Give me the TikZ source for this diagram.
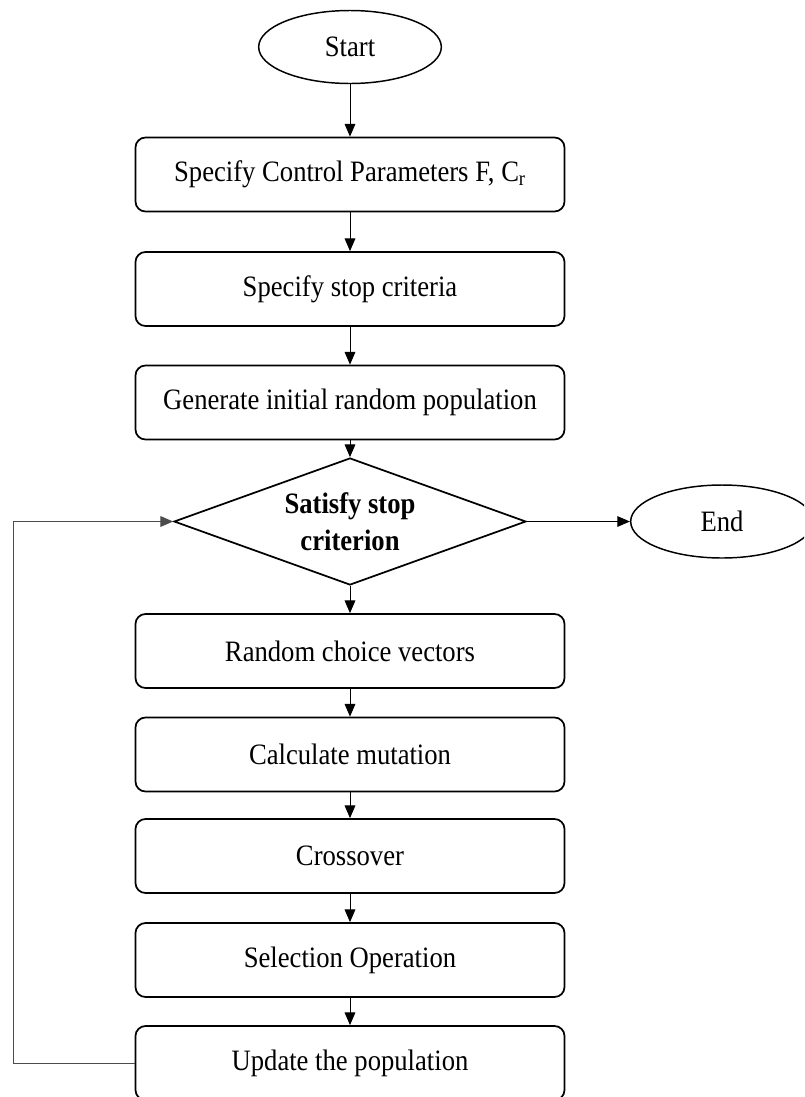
\documentclass[tikz,border=0pt]{standalone}
\usepackage{fontspec}
\setmainfont{Liberation Serif}[FakeStretch=0.9]
\usetikzlibrary{shapes.geometric,arrows.meta}
\begin{document}
\begin{tikzpicture}[x=0.75pt,y=-0.75pt,
  font=\fontsize{22.2}{26}\selectfont,
  stepbox/.style={draw,line width=1.3pt,rounded corners=7.5pt,minimum width=321.75pt,minimum height=55.5pt,inner sep=0pt},
  term/.style={draw,line width=1.1pt,ellipse,minimum width=137pt,minimum height=54.75pt,inner sep=0pt},
  decision/.style={draw,line width=1.3pt,diamond,shape aspect=2.77,minimum width=264pt,minimum height=95.25pt,inner sep=0pt,align=center,font=\fontsize{22.2}{28}\selectfont\bfseries},
  conn/.style={line width=0.75pt,-{Triangle[length=9.5pt,width=8pt]}},
  loopline/.style={line width=0.75pt,draw=black!70,-{Triangle[length=9.5pt,width=8pt]}}]
\useasboundingbox (0,0) rectangle (804,1097);
\clip (0,0) rectangle (804,1097);
\node[term] (start) at (350,47) {Start};
\node[stepbox] (b1) at (350,174.5) {Specify Control Parameters F, C\textsubscript{r}};
\node[stepbox] (b2) at (350,289) {Specify stop criteria};
\node[stepbox] (b3) at (350,402.5) {Generate initial random population};
\node[decision] (dec) at (350,521.5) {Satisfy stop\\criterion};
\node[term] (end) at (722,521.5) {End};
\node[stepbox] (b4) at (350,651) {Random choice vectors};
\node[stepbox] (b5) at (350,754.5) {Calculate mutation};
\node[stepbox] (b6) at (350,856) {Crossover};
\node[stepbox] (b7) at (350,960) {Selection Operation};
\node[stepbox] (b8) at (350,1063) {Update the population};
\coordinate (lb) at (13,1063);
\coordinate (lt) at (13,521.5);
\draw[conn] (start) -- (b1);
\draw[conn] (b1) -- (b2);
\draw[conn] (b2) -- (b3);
\draw[conn] (b3) -- (dec);
\draw[conn] (dec) -- (end);
\draw[conn] (dec) -- (b4);
\draw[conn] (b4) -- (b5);
\draw[conn] (b5) -- (b6);
\draw[conn] (b6) -- (b7);
\draw[conn] (b7) -- (b8);
\draw[loopline] (b8.west) -- (lb) -- (lt) -- (dec.west);
\end{tikzpicture}
\end{document}
